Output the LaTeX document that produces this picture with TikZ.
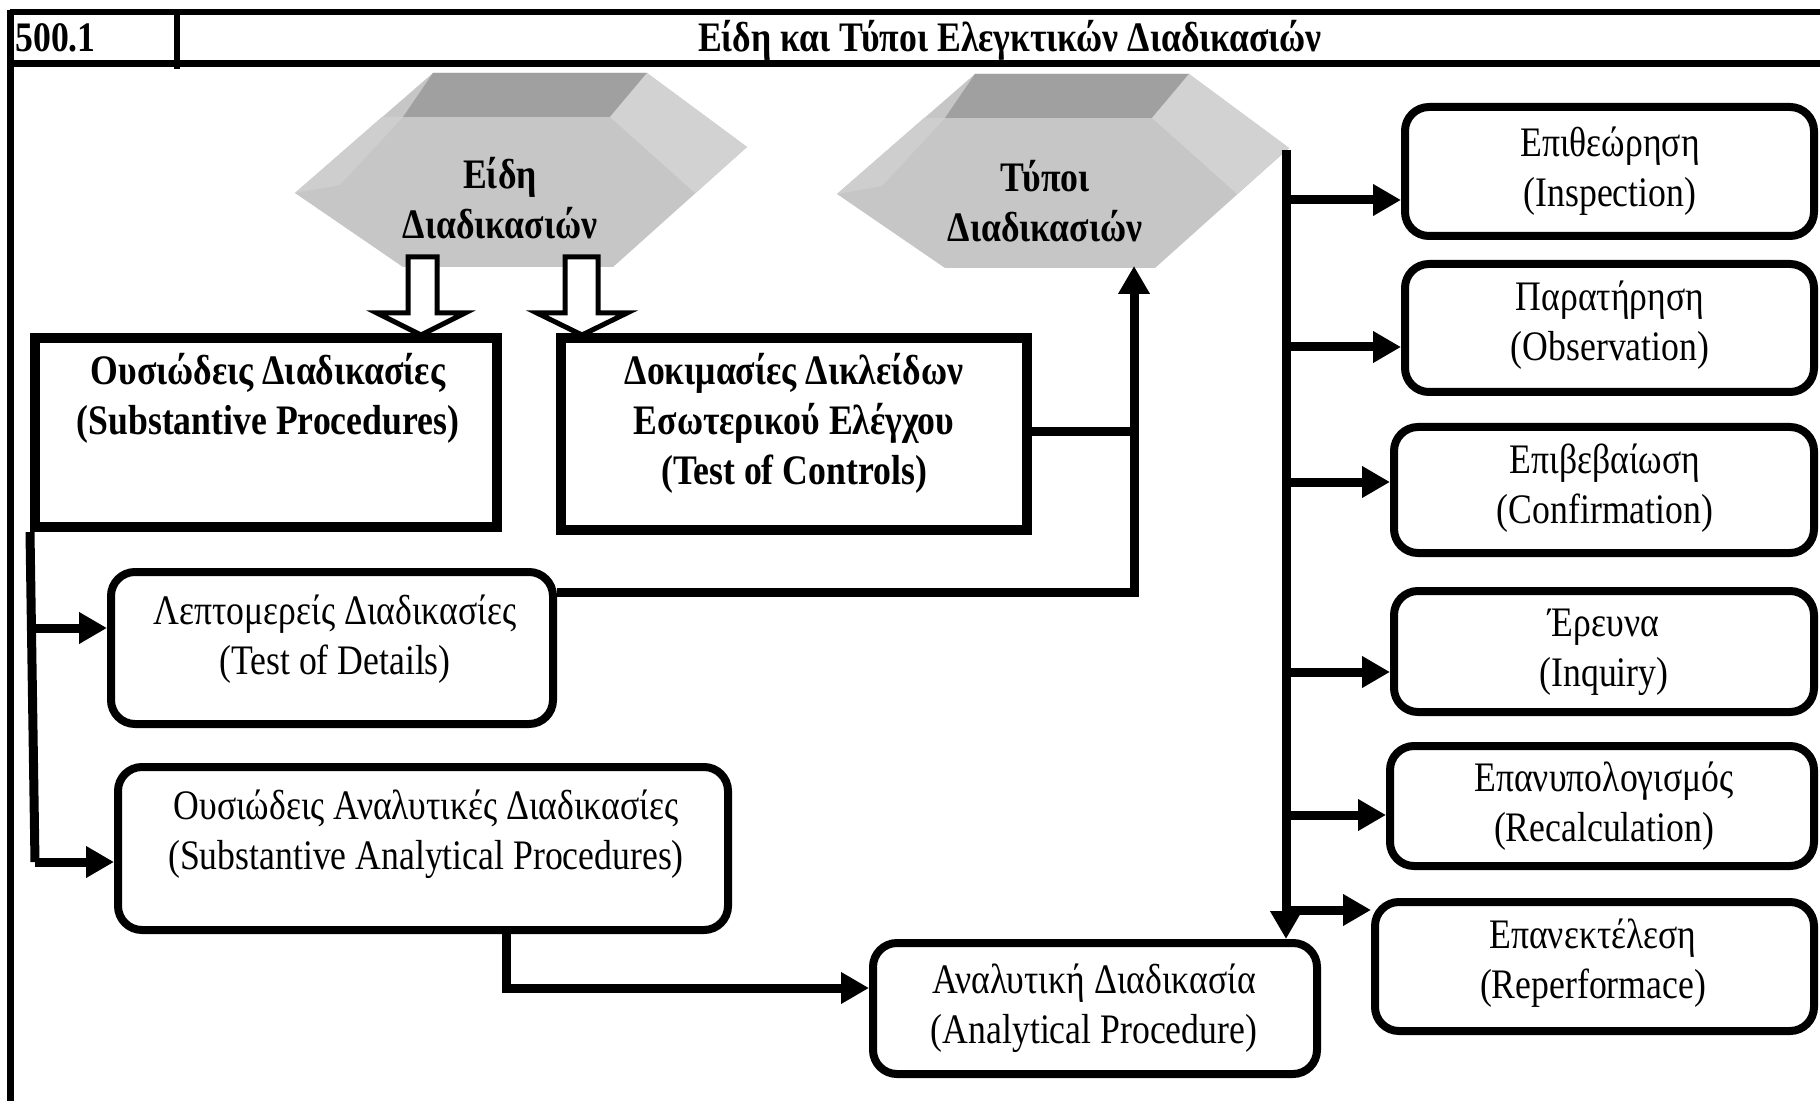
\documentclass[tikz,border=0pt]{standalone}
\usepackage{fontspec}
\setmainfont{Liberation Serif}[FakeStretch=0.85]
\usetikzlibrary{arrows.meta,calc}
\definecolor{hexfront}{HTML}{C6C6C6}
\definecolor{hextop}{HTML}{A0A0A0}
\definecolor{hexright}{HTML}{D2D2D2}
\definecolor{hexleft}{HTML}{CECECE}
\begin{document}
\begin{tikzpicture}[x=0.5pt,y=-0.5pt,
  basefont/.style={font=\fontsize{21pt}{25pt}\selectfont},
  boldfont/.style={font=\fontsize{21pt}{25pt}\selectfont\bfseries},
  sharpbox/.style={draw, line width=5pt, inner sep=0pt},
  roundbox/.style={draw, line width=4pt, rounded corners=12pt, inner sep=0pt},
  txt/.style={basefont, align=center, inner sep=0pt},
  btxt/.style={boldfont, align=center, inner sep=0pt},
  conn/.style={line width=4.5pt},
  arr/.style={line width=4.5pt, -{Triangle[length=14pt,width=15pt]}},
  hollow/.style={draw, line width=2.5pt, fill=white, miter limit=10},
  frameline/.style={line width=3pt}]
\useasboundingbox (0,0) rectangle (1820,1101);
\fill[white] (0,0) rectangle (1820,1101);

% frame and header
\draw[frameline] (10,12.5) -- (1820,12.5);
\draw[line width=3.5pt] (10,64) -- (1820,64);
\draw[line width=3.5pt] (10,10) -- (10,1101);
\draw[frameline] (177,11) -- (177,69);
\node[boldfont, anchor=base west, inner sep=0pt] (code) at (15,52) {500.1};
\node[boldfont, anchor=base, inner sep=0pt] (title) at (1010,52) {Είδη και Τύποι Ελεγκτικών Διαδικασιών};

% hexagon shapes
\foreach \dx/\dy in {0/0, 542/1}{
  \begin{scope}[shift={(\dx,\dy)}]
    \fill[hexfront] (295,193) -- (433,73) -- (647,73) -- (747,147) -- (613,267) -- (403,267) -- cycle;
    \fill[hexleft] (295,193) -- (382,117) -- (403,117) -- (340,185) -- cycle;
    \fill[hextop] (403,117) -- (433,73) -- (647,73) -- (610,117) -- cycle;
    \fill[hexright] (610,117) -- (647,73) -- (747,147) -- (695,193) -- cycle;
  \end{scope}
}
\node[btxt] (h1) at (500,198) {Είδη\\Διαδικασιών};
\node[btxt] (h2) at (1045,201) {Τύποι\\Διαδικασιών};
\coordinate (h2b) at (1134,266);
\coordinate (rv) at (1286,150);

% boxes
\node[sharpbox, minimum width=231pt, minimum height=94.5pt] (sp) at (266,432.5) {};
\node[btxt] (sptext) at (268,398) {Ουσιώδεις Διαδικασίες\\(Substantive Procedures)};
\node[sharpbox, minimum width=233pt, minimum height=96pt] (tc) at (794,434) {};
\node[btxt] (tctext) at (794,423) {Δοκιμασίες Δικλείδων\\Εσωτερικού Ελέγχου\\(Test of Controls)};

\node[roundbox, minimum width=221pt, minimum height=76pt] (td) at (332,648) {};
\node[txt] (tdtext) at (335,639) {Λεπτομερείς Διαδικασίες\\(Test of Details)};
\node[roundbox, minimum width=305pt, minimum height=81.5pt] (sap) at (423,848.5) {};
\node[txt] (saptext) at (426,834) {Ουσιώδεις Αναλυτικές Διαδικασίες\\(Substantive Analytical Procedures)};
\node[roundbox, minimum width=222pt, minimum height=65.5pt] (ap) at (1095,1008.5) {};
\node[txt] (aptext) at (1094,1008) {Αναλυτική Διαδικασία\\(Analytical Procedure)};

\node[roundbox, minimum width=204.5pt, minimum height=64.5pt] (r1) at (1609.5,171.5) {};
\node[txt] (r1t) at (1610,171) {Επιθεώρηση\\(Inspection)};
\node[roundbox, minimum width=204.5pt, minimum height=64pt] (r2) at (1609.5,328) {};
\node[txt] (r2t) at (1610,325) {Παρατήρηση\\(Observation)};
\node[roundbox, minimum width=210pt, minimum height=63pt] (r3) at (1604,490) {};
\node[txt] (r3t) at (1605,488) {Επιβεβαίωση\\(Confirmation)};
\node[roundbox, minimum width=210pt, minimum height=60.5pt] (r4) at (1604,651.5) {};
\node[txt] (r4t) at (1604,652) {Έρευνα\\(Inquiry)};
\node[roundbox, minimum width=212pt, minimum height=60pt] (r5) at (1602,806) {};
\node[txt] (r5t) at (1604,806) {Επανυπολογισμός\\(Recalculation)};
\node[roundbox, minimum width=219.5pt, minimum height=64.5pt] (r6) at (1594.5,966.5) {};
\node[txt] (r6t) at (1593,963) {Επανεκτέλεση\\(Reperformace)};

% hollow block arrows from hex 1
\draw[hollow] (408,257) -- (437,257) -- (437,313) -- (465,313) -- (421,335) -- (377,313) -- (408,313) -- cycle;
\draw[hollow] (565,257) -- (598,257) -- (598,313) -- (627,313) -- (582,335) -- (537,313) -- (565,313) -- cycle;

% left connectors
\coordinate (lj) at (35,862);
\coordinate (lt) at (35,628);
\draw[conn] (sp.south west) -- (lj);
\draw[arr] (lt) -- (td.west |- lt);
\draw[arr] (lj) -- (sap.west |- lj);

% tests of controls / details to types
\coordinate (tj) at (1134,432);
\coordinate (dj) at (1134,592);
\draw[conn] (tc.east |- tj) -- (tj);
\draw[arr] (td.east |- dj) -- (dj) -- (h2b);

% SAP to analytical
\coordinate (sj) at (506,988);
\draw[arr] (sap.south -| sj) -- (sj) -- (ap.west |- sj);

% right trunk
\draw[arr] (rv) -- (ap.north -| rv);
\foreach \n/\yy in {1/200, 2/347, 3/482, 4/672, 5/815, 6/910}{
  \coordinate (b\n) at (1286,\yy);
  \draw[arr] (b\n) -- (r\n.west |- b\n);
}
\end{tikzpicture}
\end{document}
